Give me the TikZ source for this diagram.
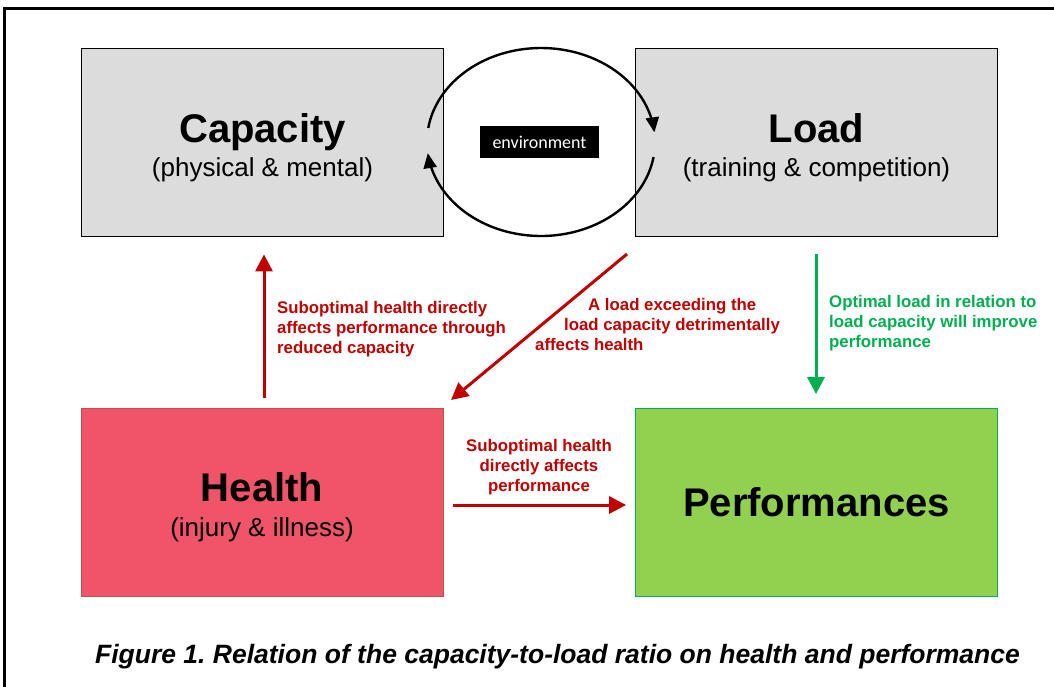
\documentclass[tikz,border=0pt]{standalone}
\usepackage{fontspec}
\setmainfont{Liberation Sans}
\newfontfamily\envfont{Carlito}
\usetikzlibrary{arrows.meta}
\definecolor{boxgray}{HTML}{DCDCDC}
\definecolor{healthred}{HTML}{EF5468}
\definecolor{healthborder}{HTML}{C0504D}
\definecolor{perfgreen}{HTML}{92D050}
\definecolor{perfborder}{HTML}{00B050}
\definecolor{arrred}{HTML}{C00000}
\definecolor{arrgreen}{HTML}{00B050}
\frenchspacing
\tikzset{
  bigbox/.style={draw, line width=0.8pt, minimum width=362pt, minimum height=188pt, inner sep=0pt},
  titletext/.style={inner sep=0pt, anchor=base, font=\fontsize{40}{48}\selectfont\bfseries},
  subtext/.style={inner sep=0pt, anchor=base, font=\fontsize{26}{31}\selectfont},
  lbl/.style={inner sep=0pt, font=\fontsize{16.8}{20}\selectfont\bfseries},
  redarrow/.style={draw=arrred, line width=3pt, -{Triangle[length=17pt,width=17pt]}},
  greenarrow/.style={draw=arrgreen, line width=3pt, -{Triangle[length=17pt,width=17pt]}},
  cyclearrow/.style={draw=black, line width=2.4pt, -{Triangle[length=15pt,width=13pt]}},
}
\begin{document}
\begin{tikzpicture}[x=1pt,y=-1pt]
\useasboundingbox (0,0) rectangle (1054,686);
\fill[white] (0,0) rectangle (1054,686);
\draw[line width=2.5pt] (4.5,690) -- (4.5,8.5) -- (1060,8.5);

% boxes
\node[bigbox, fill=boxgray, draw=black] (capacity) at (262.5,142) {};
\node[bigbox, fill=boxgray, draw=black] (load) at (816.5,142) {};
\node[bigbox, fill=healthred, draw=healthborder] (health) at (262,502.5) {};
\node[bigbox, fill=perfgreen, draw=perfborder] (perf) at (816.5,502.5) {};

\node[titletext] (captitle) at (262.5,142) {Capacity};
\node[subtext] (capsub) at (262.5,176) {(physical \& mental)};
\node[titletext] (loadtitle) at (816.5,142) {Load};
\node[subtext] (loadsub) at (816.5,176) {(training \& competition)};
\node[titletext] (healthtitle) at (262,501) {Health};
\node[subtext] (healthsub) at (262,536) {(injury \& illness)};
\node[titletext] (perftitle) at (816.5,516) {Performances};

% environment cycle
\draw[cyclearrow] plot[domain=0:165.5, samples=80, smooth] ({541+114*cos(171.4-\x)},{142-94*sin(171.4-\x)});
\draw[cyclearrow] plot[domain=0:164, samples=80, smooth] ({541+114*cos(-9.2-\x)},{142-94*sin(-9.2-\x)});
\node[fill=black, text=white, minimum width=119pt, minimum height=32pt, inner sep=0pt,
      font=\envfont\fontsize{18}{21}\selectfont] (env) at (539.5,142) {environment};

% connectors
\coordinate (diagstart) at (627,254);
\coordinate (diagend) at (451,400);
\draw[redarrow, shorten <=10pt, shorten >=18pt] (health.north -| 264,0) -- (capacity.south -| 264,0);
\draw[redarrow] (diagstart) -- (diagend);
\draw[redarrow, shorten <=10pt, shorten >=9pt] (health.east |- 0,505) -- (perf.west |- 0,505);
\draw[greenarrow, shorten <=18pt, shorten >=14pt] (load.south -| 816,0) -- (perf.north -| 816,0);

% labels
\node[lbl, text=arrred, align=left, anchor=north west] (lbl1) at (277,301) {Suboptimal health directly\\affects performance through\\reduced capacity};
\node[lbl, text=arrred, align=left, anchor=north west] (lbl2) at (535,298) {\hspace{53pt}A load exceeding the\\\hspace{29pt}load capacity detrimentally\\affects health};
\node[lbl, text=arrred, align=center, anchor=north] (lbl3) at (539,439) {Suboptimal health\\directly affects\\performance};
\node[lbl, text=arrgreen, align=left, anchor=north west] (lbl4) at (829,295) {Optimal load in relation to\\load capacity will improve\\performance};

% caption
\node[inner sep=0pt, anchor=base, font=\fontsize{26.5}{30}\selectfont\bfseries\itshape] (caption) at (557.5,663) {Figure 1. Relation of the capacity-to-load ratio on health and performance};
\end{tikzpicture}
\end{document}
